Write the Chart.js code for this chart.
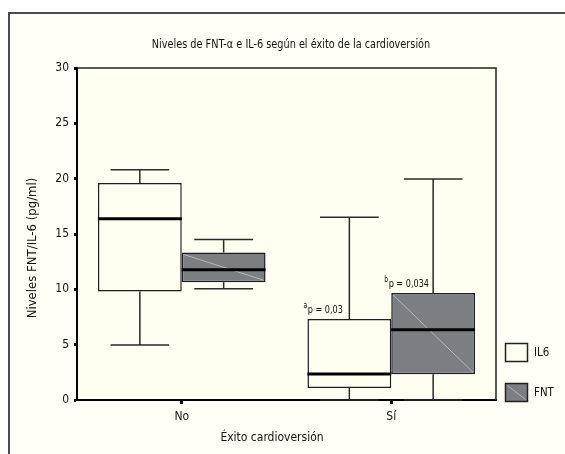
<!DOCTYPE html>
<html>
<head>
<meta charset="utf-8">
<script src="https://cdn.jsdelivr.net/npm/chart.js@4.4.0/dist/chart.umd.min.js"></script>
<style>
  html, body { margin: 0; padding: 0; background: #fff; }
  #wrap { width: 565px; height: 454px; }
</style>
</head>
<body>
<div id="wrap"><canvas id="boxChart" width="565" height="454"></canvas></div>
<script>
'use strict';

var categories = ['No', 'Sí'];
var yTicks = [0, 5, 10, 15, 20, 25, 30];
var seriesLabels = ['IL6', 'FNT'];

// IL6 box stats (min, Q1, median, Q3, max)
var il6Min = [4.96, 0];
var il6Q1 = [9.8, 1.08];
var il6Median = [16.37, 2.35];
var il6Q3 = [19.6, 7.31];
var il6Max = [20.8, 16.52];

// FNT box stats
var fntMin = [10.05, 0];
var fntQ1 = [10.65, 2.32];
var fntMedian = [11.77, 6.35];
var fntQ3 = [13.33, 9.66];
var fntMax = [14.5, 19.98];

// significance notes above the boxes
var il6Notes = [null, ['a', 'p = 0,03']];
var fntNotes = [null, ['b', 'p = 0,034']];

var chartTitle = 'Niveles de FNT-\u03b1 e IL-6 según el éxito de la cardioversión';
var yTitle = 'Niveles FNT/IL-6 (pg/ml)';
var xTitle = 'Éxito cardioversión';

var fontFam = '"Liberation Sans Narrow", "DejaVu Sans Condensed", "Arial Narrow", sans-serif';
var il6Color = '#fffef0';
var fntColor = '#7b7f83';

function boxes(q1, q3) {
    return q1.map(function(v, i) { return [v, q3[i]]; });
}

// text squeezed horizontally, the original uses a condensed face
function narrowText(ctx, txt, x, y, size, sx, align) {
    ctx.save();
    ctx.font = size + 'px ' + fontFam;
    ctx.textAlign = align || 'left';
    ctx.translate(x, y);
    ctx.scale(sx, 1);
    ctx.fillText(txt, 0, 0);
    var w = ctx.measureText(txt).width * sx;
    ctx.restore();
    return w;
}

var boxPlugin = {
    id: 'boxPlugin',
    beforeDraw: function(chart) {
        var ctx = chart.ctx, a = chart.chartArea;
        ctx.save();
        ctx.fillStyle = '#fffef7';
        ctx.fillRect(9, 13, chart.width - 9, chart.height - 13);
        ctx.fillStyle = '#fffef1';
        ctx.fillRect(a.left, a.top, a.right - a.left, a.bottom - a.top);
        ctx.strokeStyle = '#4a4a4a';
        ctx.lineWidth = 2;
        ctx.beginPath();
        ctx.moveTo(9, chart.height);
        ctx.lineTo(9, 13);
        ctx.lineTo(chart.width, 13);
        ctx.stroke();
        ctx.restore();
    },
    afterDatasetsDraw: function(chart) {
        var ctx = chart.ctx, y = chart.scales.y;
        ctx.save();
        chart.data.datasets.forEach(function(ds, di) {
            var meta = chart.getDatasetMeta(di);
            meta.data.forEach(function(bar, i) {
                var p = bar.getProps(['x', 'width'], true);
                var left = p.x - p.width / 2, right = p.x + p.width / 2;
                var top = y.getPixelForValue(ds.data[i][1]);
                var bottom = y.getPixelForValue(ds.data[i][0]);
                var yMin = y.getPixelForValue(ds.stats.min[i]);
                var yMax = y.getPixelForValue(ds.stats.max[i]);
                var yMed = y.getPixelForValue(ds.stats.median[i]);
                var cap = p.width * 0.35;

                // diagonal hatch on FNT
                if (ds.diagonal) {
                    ctx.strokeStyle = '#b4b8bc';
                    ctx.lineWidth = 1;
                    ctx.beginPath();
                    ctx.moveTo(left + 2, top + 2);
                    ctx.lineTo(right - 2, bottom - 2);
                    ctx.stroke();
                }

                // whiskers
                ctx.strokeStyle = '#2a2a2a';
                ctx.lineWidth = 1.5;
                ctx.beginPath();
                ctx.moveTo(p.x, top); ctx.lineTo(p.x, yMax);
                ctx.moveTo(p.x - cap, yMax); ctx.lineTo(p.x + cap, yMax);
                ctx.moveTo(p.x, bottom); ctx.lineTo(p.x, yMin);
                ctx.moveTo(p.x - cap, yMin); ctx.lineTo(p.x + cap, yMin);
                ctx.stroke();

                // median
                ctx.strokeStyle = '#000';
                ctx.lineWidth = 3;
                ctx.beginPath();
                ctx.moveTo(left, yMed); ctx.lineTo(right, yMed);
                ctx.stroke();

                // p value note
                var note = ds.notes[i];
                if (note) {
                    var tx = left - (di === 0 ? 4 : 7);
                    var ty = top - 6;
                    ctx.fillStyle = '#111';
                    ctx.textBaseline = 'alphabetic';
                    var w = narrowText(ctx, note[0], tx, ty - 5, 8, 0.85);
                    narrowText(ctx, note[1], tx + w + 0.5, ty, 11, 0.82);
                }
            });
        });
        ctx.restore();
    },
    afterDraw: function(chart) {
        var ctx = chart.ctx, a = chart.chartArea;
        ctx.save();
        // top and right frame of the plot
        ctx.strokeStyle = '#222';
        ctx.lineWidth = 1.5;
        ctx.beginPath();
        ctx.moveTo(a.left, a.top);
        ctx.lineTo(a.right, a.top);
        ctx.lineTo(a.right, a.bottom);
        ctx.stroke();

        ctx.fillStyle = '#111';
        ctx.textBaseline = 'middle';
        narrowText(ctx, chartTitle, 291, 45, 12, 0.9, 'center');
        narrowText(ctx, xTitle, 272, 438, 12, 1, 'center');

        ctx.save();
        ctx.translate(33, 248);
        ctx.rotate(-Math.PI / 2);
        narrowText(ctx, yTitle, 0, 0, 13, 1, 'center');
        ctx.restore();

        // legend
        var ly = [343, 383];
        chart.data.datasets.forEach(function(ds, di) {
            var bx = 505.5, by = ly[di] + 0.5, bw = 22, bh = 18;
            ctx.fillStyle = ds.backgroundColor;
            ctx.fillRect(bx, by, bw, bh);
            if (ds.diagonal) {
                ctx.strokeStyle = '#b4b8bc';
                ctx.lineWidth = 1;
                ctx.beginPath();
                ctx.moveTo(bx + 2, by + 2);
                ctx.lineTo(bx + bw - 2, by + bh - 2);
                ctx.stroke();
            }
            ctx.strokeStyle = '#222';
            ctx.lineWidth = 1.5;
            ctx.strokeRect(bx, by, bw, bh);
            ctx.fillStyle = '#111';
            narrowText(ctx, ds.label, 534, by + bh / 2, 12, 0.95);
        });
        ctx.restore();
    }
};

var ctx = document.getElementById('boxChart');
var boxChart = new Chart(ctx, {
    type: 'bar',
    data: {
        labels: categories,
        datasets: [{
            label: seriesLabels[0],
            data: boxes(il6Q1, il6Q3),
            stats: { min: il6Min, median: il6Median, max: il6Max },
            notes: il6Notes,
            diagonal: false,
            backgroundColor: il6Color,
            borderColor: '#1e1e1e',
            borderWidth: 1.5,
            borderSkipped: false
        }, {
            label: seriesLabels[1],
            data: boxes(fntQ1, fntQ3),
            stats: { min: fntMin, median: fntMedian, max: fntMax },
            notes: fntNotes,
            diagonal: true,
            backgroundColor: fntColor,
            borderColor: '#1e1e1e',
            borderWidth: 1.5,
            borderSkipped: false
        }]
    },
    options: {
        responsive: false,
        animation: false,
        categoryPercentage: 0.8,
        barPercentage: 1.0,
        layout: { padding: { left: 0, right: 69, top: 68, bottom: 0 } },
        plugins: {
            legend: { display: false },
            title: { display: false },
            tooltip: { enabled: false }
        },
        scales: {
            x: {
                offset: true,
                grid: { offset: false, drawOnChartArea: false, drawTicks: true, tickLength: 4, tickWidth: 3, tickColor: '#000' },
                border: { display: true, color: '#000', width: 2 },
                ticks: { color: '#111', font: { family: fontFam, size: 12 }, padding: 6 },
                afterFit: function(s) { s.height = 54; }
            },
            y: {
                min: 0,
                max: 30,
                afterBuildTicks: function(s) { s.ticks = yTicks.map(function(v) { return { value: v }; }); },
                grid: { drawOnChartArea: false, drawTicks: true, tickLength: 3, tickWidth: 3, tickColor: '#000' },
                border: { display: true, color: '#000', width: 2 },
                ticks: { color: '#111', font: { family: fontFam, size: 12 }, padding: 5 },
                afterFit: function(s) { s.width = 77; }
            }
        }
    },
    plugins: [boxPlugin]
});
</script>
</body>
</html>
